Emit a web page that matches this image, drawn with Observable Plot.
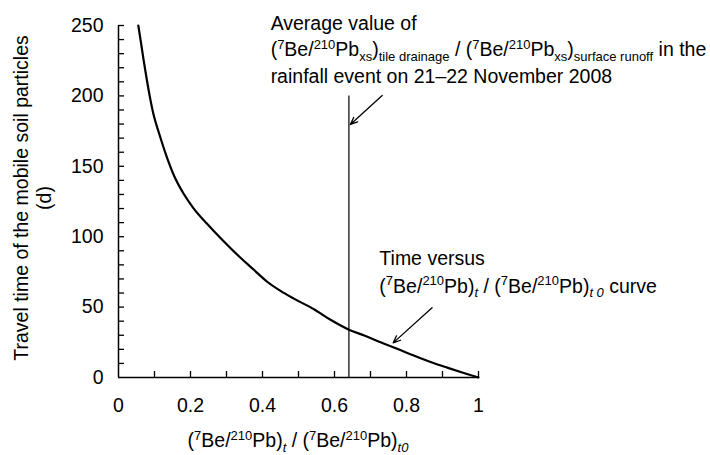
<!DOCTYPE html>
<html><head><meta charset="utf-8">
<script src="https://cdn.jsdelivr.net/npm/d3@7"></script>
<script src="https://cdn.jsdelivr.net/npm/@observablehq/plot@0.6"></script>
<style>
body{margin:0;background:#fff}
svg{font-family:"Liberation Sans",Arial,Helvetica,sans-serif}
</style>
</head><body><div id="chart"></div>
<script>
// Curve: (7Be/210Pb)t / (7Be/210Pb)t0 ratio vs travel time (d)
const ratio = [0.055, 0.063, 0.070, 0.078, 0.087, 0.098, 0.112, 0.135, 0.154, 0.181, 0.209, 0.246, 0.288, 0.339, 0.376, 0.413, 0.450, 0.487, 0.543, 0.589, 0.640, 0.681, 0.728, 0.774, 0.820, 0.867, 0.913, 0.959, 1.000];
const travelTime = [250, 237, 225, 212.5, 199.5, 186, 174, 156, 143.5, 130.5, 120, 109.2, 97.8, 85, 76.5, 68, 61.5, 56, 48.5, 41, 34, 30, 25, 20.4, 15.6, 11, 7, 3.2, 0];

// Average value line
const averageRatio = 0.64;
const averageLineTop = 200;

// Axis ticks
const xTickValues = [0, 0.2, 0.4, 0.6, 0.8, 1];
const xTickLabels = ["0", "0.2", "0.4", "0.6", "0.8", "1"];
const xMinorTicks = [0.1, 0.2, 0.3, 0.4, 0.5, 0.6, 0.7, 0.8, 0.9, 1.0];
const yTickValues = [0, 50, 100, 150, 200, 250];
const yTickLabels = ["0", "50", "100", "150", "200", "250"];
const yMinorTicks = [10, 20, 30, 40, 50, 60, 70, 80, 90, 100, 110, 120, 130, 140, 150, 160, 170, 180, 190, 200, 210, 220, 230, 240, 250];

// Annotation arrows (data coordinates: tail -> head)
const arrowTailX = [0.7325, 0.871];
const arrowTailY = [200.3, 49.5];
const arrowHeadX = [0.644, 0.763];
const arrowHeadY = [179.7, 24.6];

// Annotation anchors (data coordinates)
const noteAverageAnchor = {x: 0.424, y: 246.4};
const noteCurveAnchor = {x: 0.726, y: 79.5};

const curveData = ratio.map((r, i) => ({r, t: travelTime[i]}));
const arrowData = arrowTailX.map((x, i) => ({x1: x, y1: arrowTailY[i], x2: arrowHeadX[i], y2: arrowHeadY[i]}));

const FS = 19.5;
const chart = Plot.plot({
  width: 710, height: 455,
  marginLeft: 118, marginRight: 232, marginTop: 25, marginBottom: 78,
  x: {domain: [0, 1], label: null},
  y: {domain: [0, 250], label: null},
  style: {fontFamily: '"Liberation Sans", Arial, Helvetica, sans-serif', fontSize: FS + "px", color: "black", background: "white", overflow: "visible"},
  marks: [
    Plot.axisX(xTickValues, {tickSize: 0, tickPadding: 21, fontSize: FS, tickFormat: d => xTickLabels[xTickValues.indexOf(d)], label: null}),
    Plot.axisY(yTickValues, {tickSize: 0, tickPadding: 15, fontSize: FS, tickFormat: d => yTickLabels[yTickValues.indexOf(d)], label: null}),
    Plot.ruleX(xMinorTicks, {x: d => d, y1: 0, y2: 0, insetTop: -6, stroke: "black", strokeWidth: 1.3}),
    Plot.ruleY(yMinorTicks, {y: d => d, x1: 0, x2: 0, insetRight: -6, stroke: "black", strokeWidth: 1.3}),
    Plot.ruleX([0], {y1: 0, y2: 250, stroke: "black", strokeWidth: 1.5}),
    Plot.ruleY([0], {x1: 0, x2: 1, stroke: "black", strokeWidth: 1.5}),
    Plot.ruleX([averageRatio], {y1: 0, y2: averageLineTop, stroke: "black", strokeWidth: 1.2}),
    Plot.line(curveData, {x: "r", y: "t", stroke: "black", strokeWidth: 2.2, curve: "monotone-x"}),
    Plot.arrow(arrowData, {x1: "x1", y1: "y1", x2: "x2", y2: "y2", stroke: "black", strokeWidth: 1.3, headLength: 9, headAngle: 45})
  ]
});
document.getElementById("chart").appendChild(chart);

const sx = chart.scale("x").apply, sy = chart.scale("y").apply;
const svg = d3.select(chart);
const SMALL = 13;

function richLine(parent, parts) {
  let shift = 0;
  parts.forEach(([txt, kind]) => {
    let target = 0;
    if (kind === "sup") target = -7.5;
    else if (kind === "sub" || kind === "subi") target = 4.5;
    const ts = parent.append("tspan").text(txt);
    if (target !== shift) { ts.attr("dy", target - shift); shift = target; }
    if (kind !== "n" && kind !== "i") ts.attr("font-size", SMALL);
    if (kind === "subi" || kind === "i") ts.attr("font-style", "italic");
  });
}

const g = svg.append("g").attr("fill", "black").attr("font-size", FS).attr("text-anchor", "start");

// Annotation 1
const ax = sx(noteAverageAnchor.x), ay = sy(noteAverageAnchor.y);
g.append("text").attr("x", ax).attr("y", ay).text("Average value of");
richLine(g.append("text").attr("x", ax).attr("y", ay + 26), [
  ["(", "n"], ["7", "sup"], ["Be/", "n"], ["210", "sup"], ["Pb", "n"], ["xs", "sub"], [")", "n"], ["tile drainage", "sub"],
  [" / (", "n"], ["7", "sup"], ["Be/", "n"], ["210", "sup"], ["Pb", "n"], ["xs", "sub"], [")", "n"], ["surface runoff", "sub"], [" in the", "n"]
]);
g.append("text").attr("x", ax).attr("y", ay + 52.5).text("rainfall event on 21\u201322 November 2008");

// Annotation 2
const bx = sx(noteCurveAnchor.x), by = sy(noteCurveAnchor.y);
g.append("text").attr("x", bx).attr("y", by).text("Time versus");
richLine(g.append("text").attr("x", bx).attr("y", by + 27.5), [
  ["(", "n"], ["7", "sup"], ["Be/", "n"], ["210", "sup"], ["Pb)", "n"], ["t", "subi"],
  [" / (", "n"], ["7", "sup"], ["Be/", "n"], ["210", "sup"], ["Pb)", "n"], ["t 0", "subi"], [" curve", "n"]
]);

// X-axis label
richLine(g.append("text").attr("x", (sx(0) + sx(1)) / 2).attr("y", 447).attr("text-anchor", "middle"), [
  ["(", "n"], ["7", "sup"], ["Be/", "n"], ["210", "sup"], ["Pb)", "n"], ["t", "subi"],
  [" / (", "n"], ["7", "sup"], ["Be/", "n"], ["210", "sup"], ["Pb)", "n"], ["t0", "subi"]
]);

// Y-axis label (two lines)
const yl = g.append("g").attr("transform", "translate(0,198) rotate(-90)").attr("text-anchor", "middle");
yl.append("text").attr("x", 0).attr("y", 27.5).text("Travel time of the mobile soil particles");
yl.append("text").attr("x", 0).attr("y", 51).text("(d)");
</script>
</body></html>
